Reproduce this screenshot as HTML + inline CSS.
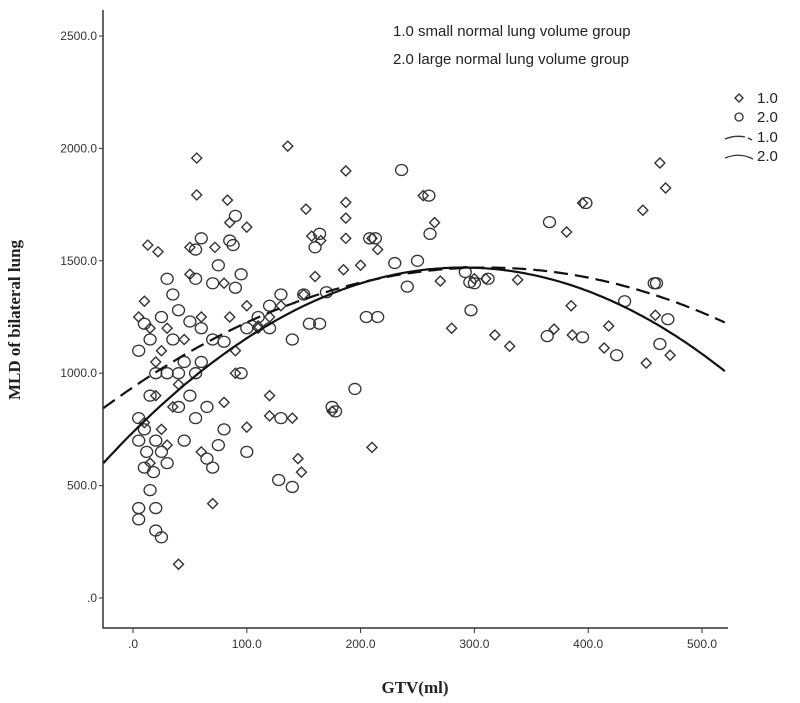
<!DOCTYPE html>
<html><head><meta charset="utf-8"><style>
body{margin:0;background:#fff;width:800px;height:703px;overflow:hidden}
svg{display:block}
.t{font-family:"Liberation Sans",sans-serif;font-size:12px;fill:#333}
.ttl{font-family:"Liberation Serif",serif;font-weight:bold;font-size:17px;fill:#222}
.lg{font-family:"Liberation Sans",sans-serif;font-size:15px;fill:#222}
</style></head><body>
<svg id="c" width="800" height="703"></svg>
<script>
const yTicks=[0,500,1000,1500,2000,2500];
const yTickLabels=[".0","500.0","1000.0","1500.0","2000.0","2500.0"];
const xTicks=[0,100,200,300,400,500];
const xTickLabels=[".0","100.0","200.0","300.0","400.0","500.0"];
const group1=[[13,1570],[56,1957],[56,1793],[83,1770],[136,2010],[187,1900],[187,1760],[187,1690],[187,1600],[152,1730],[157,1610],[100,1650],[85,1670],[72,1560],[50,1560],[22,1540],[50,1440],[80,1400],[85,1250],[15,1200],[10,1320],[5,1250],[25,1100],[40,950],[30,1200],[45,1150],[20,1050],[60,1250],[90,1100],[100,1300],[110,1200],[120,1250],[130,1300],[150,1350],[160,1430],[185,1460],[210,1600],[215,1550],[255,1790],[265,1670],[140,800],[145,620],[148,560],[210,670],[120,900],[120,810],[100,760],[40,150],[70,420],[25,750],[30,680],[60,650],[80,870],[110,1210],[175,830],[270,1410],[318,1170],[331,1120],[338,1415],[370,1196],[386,1170],[385,1300],[414,1112],[418,1210],[451,1045],[459,1258],[472,1080],[463,1935],[468,1824],[448,1725],[395,1757],[381,1628],[300,1420],[310,1420],[280,1200],[90,1000],[20,900],[15,600],[10,780],[35,850],[165,1590],[200,1480]];
const group2=[[236,1904],[260,1790],[261,1620],[230,1490],[241,1385],[296,1405],[297,1280],[292,1450],[312,1420],[213,1600],[208,1600],[164,1620],[160,1560],[164,1220],[140,494],[128,525],[195,930],[178,830],[175,850],[140,1150],[90,1700],[85,1590],[88,1570],[60,1600],[55,1550],[75,1480],[90,1380],[95,1440],[70,1400],[60,1200],[50,1230],[40,1280],[35,1350],[30,1420],[55,1420],[25,1250],[10,1220],[15,1150],[5,1100],[20,1000],[30,1000],[15,900],[5,800],[10,750],[20,700],[25,650],[30,600],[10,580],[5,400],[5,350],[20,400],[15,480],[20,300],[25,270],[40,850],[45,700],[55,800],[65,620],[70,580],[75,680],[80,750],[95,1000],[100,1200],[110,1250],[120,1300],[130,1350],[150,1350],[170,1360],[205,1250],[215,1250],[120,1200],[80,1140],[70,1150],[60,1050],[50,900],[40,1000],[35,1150],[45,1050],[55,1000],[65,850],[100,650],[130,800],[155,1220],[366,1672],[398,1757],[364,1165],[395,1160],[425,1080],[432,1320],[460,1400],[458,1400],[463,1130],[470,1240],[300,1400],[250,1500],[5,700],[12,650],[18,560]];
const fit1=[-0.00554,310,1470];
const fit2=[-0.00871,290,1470];
const X=v=>133+v*1.138, Y=v=>598-v*0.2248;
const NS="http://www.w3.org/2000/svg", svg=document.getElementById('c');
function mk(tag,attrs,parent){const e=document.createElementNS(NS,tag);for(const k in attrs)e.setAttribute(k,attrs[k]);(parent||svg).appendChild(e);return e;}
// axes
let ax=mk('path',{d:'M103,10 V628 H728',fill:'none',stroke:'#333','stroke-width':1.5});


yTicks.forEach((v,i)=>{
 const t=mk('line',{x1:99,x2:103,y1:Y(v),y2:Y(v),stroke:'#333'});
 
 
 const l=mk('text',{x:97,y:Y(v)+4,'text-anchor':'end',class:'t'});l.textContent=yTickLabels[i];
 
 
});
xTicks.forEach((v,i)=>{
 const t=mk('line',{x1:X(v),x2:X(v),y1:628,y2:633,stroke:'#333'});
 
 
 const l=mk('text',{x:X(v),y:648,'text-anchor':'middle',class:'t'});l.textContent=xTickLabels[i];
 
 
});
let yt=mk('text',{x:20,y:320,transform:'rotate(-90 20 320)','text-anchor':'middle',class:'ttl'});yt.textContent='MLD of bilateral lung';


let xt=mk('text',{x:415,y:693,'text-anchor':'middle',class:'ttl'});xt.textContent='GTV(ml)';


// points
function diamond(cx,cy,r){return `M${cx},${cy-r} L${cx+r},${cy} L${cx},${cy+r} L${cx-r},${cy} Z`;}
group1.forEach(p=>{
 const d=mk('path',{d:diamond(X(p[0]),Y(p[1]),5),fill:'none',stroke:'#333','stroke-width':1.4});
 
 
});
group2.forEach(p=>{
 const c=mk('ellipse',{cx:X(p[0]),cy:Y(p[1]),rx:6,ry:5.5,fill:'none',stroke:'#333','stroke-width':1.3});
 
 
});
// fits
function curve(f){let s='';for(let v=-26;v<=521;v+=3){const y=f[0]*(v-f[1])*(v-f[1])+f[2];s+=(s?'L':'M')+X(v).toFixed(1)+','+Y(y).toFixed(1);}return s;}
let c1=mk('path',{d:curve(fit1),fill:'none',stroke:'#111','stroke-width':2.2,'stroke-dasharray':'14,7'});


let c2=mk('path',{d:curve(fit2),fill:'none',stroke:'#111','stroke-width':2.2});


// legends
let a=mk('text',{x:393,y:36,class:'lg'});a.textContent='1.0 small normal lung volume group';


let b=mk('text',{x:393,y:64,class:'lg'});b.textContent='2.0 large normal lung volume group';


const legY=[98,117,137,156], legLab=['1.0','2.0','1.0','2.0'];
legY.forEach((y,i)=>{
 const g=mk('g',{});
 
 
 if(i==0)mk('path',{d:diamond(739,y,4),fill:'none',stroke:'#333','stroke-width':1.4},g);
 if(i==1)mk('circle',{cx:739,cy:y,r:4,fill:'none',stroke:'#333','stroke-width':1.3},g);
 if(i==2)mk('path',{d:`M725,${y+2} Q735,${y-2} 745,${y} M748,${y+1} L752,${y+3}`,fill:'none',stroke:'#333','stroke-width':1.3},g);
 if(i==3)mk('path',{d:`M725,${y+2} Q740,${y-4} 753,${y+3}`,fill:'none',stroke:'#333','stroke-width':1.3},g);
 const t=mk('text',{x:757,y:y+5,class:'lg'},g);t.textContent=legLab[i];
});
</script>
</body></html>
